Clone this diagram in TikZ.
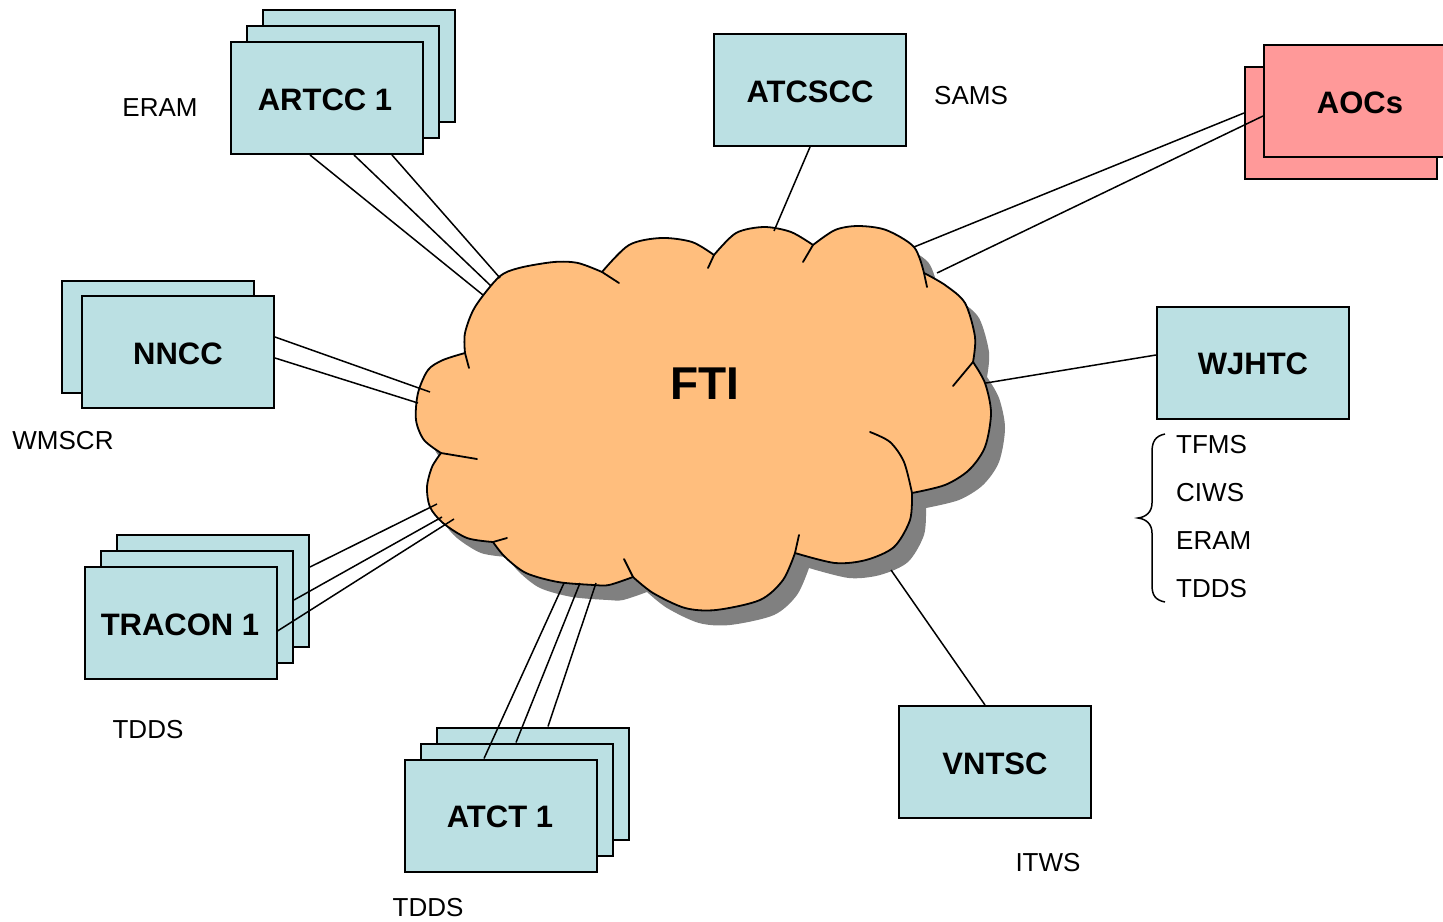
\documentclass[tikz,border=0pt]{standalone}
\usepackage{fontspec}
\setmainfont{Liberation Sans}
\definecolor{boxcol}{RGB}{187,224,227}
\definecolor{aoccol}{RGB}{255,153,153}
\definecolor{cloudcol}{RGB}{255,190,125}
\definecolor{shadowcol}{RGB}{128,128,128}
\tikzset{
  box/.style={draw=black, line width=2pt, fill=boxcol, minimum width=192pt, minimum height=112pt, inner sep=0pt, font=\fontsize{31}{36}\selectfont\bfseries},
  aocbox/.style={box, fill=aoccol},
  boxtext/.style={inner sep=0pt, font=\fontsize{31}{36}\selectfont\bfseries},
  lbl/.style={font=\fontsize{26}{30}\selectfont, inner sep=0pt},
  link/.style={line width=1.5pt},
  cloudline/.style={line width=1.8pt, line join=round, line cap=round}
}
\def\ftioutline{plot[smooth] coordinates {(465,353)(465,333)(475,307)(499,277)(519,268)(554,262)(578,263)(602,272)}
 -- plot[smooth] coordinates {(602,272)(629,245)(661,238)(692,242)(714,255)}
 -- plot[smooth] coordinates {(714,255)(736,233)(764,227)(791,232)(813,245)}
 -- plot[smooth] coordinates {(813,245)(835,230)(858,226)(886,230)(914,247)(924,273)}
 -- plot[smooth] coordinates {(924,273)(945,285)(965,303)(975,337)(973,362)}
 -- plot[smooth] coordinates {(973,362)(985,383)(991,413)(985,447)(969,470)(945,485)(912,493)}
 -- plot[smooth] coordinates {(912,493)(910,520)(894,547)(866,560)(835,563)(795,553)}
 -- plot[smooth] coordinates {(795,553)(783,580)(760,600)(716,610)(685,608)(653,593)(633,577)}
 -- plot[smooth] coordinates {(633,577)(609,585)(594,585)(558,582)(526,573)(505,557)(493,542)}
 -- plot[smooth] coordinates {(493,542)(467,538)(443,523)(430,507)(427,487)(432,467)(441,453)}
 -- plot[smooth] coordinates {(441,453)(424,440)(416,420)(418,393)(428,370)(443,360)(465,353)}}
\begin{document}
\begin{tikzpicture}[x=1pt,y=-1pt]
\useasboundingbox (0,0) rectangle (1443,921);
\clip (0,0) rectangle (1443,921);
% cloud shadow and cloud
\begin{scope}[shift={(14,15)}]
\fill[shadowcol] \ftioutline -- cycle;
\end{scope}
\filldraw[fill=cloudcol, draw=black, cloudline] \ftioutline -- cycle;
% inner strokes of the cloud
\draw[cloudline] (465,353) -- (469,368);
\draw[cloudline] (602,272) -- (619,283);
\draw[cloudline] (714,255) -- (708,268);
\draw[cloudline] (813,245) -- (803,262);
\draw[cloudline] (924,273) -- (927,287);
\draw[cloudline] (973,362) -- (953,386);
\draw[cloudline] plot[smooth] coordinates {(870,432)(890,442)(904,462)(912,493)};
\draw[cloudline] (795,553) -- (799,535);
\draw[cloudline] (633,577) -- (624,559);
\draw[cloudline] (493,542) -- (507,538);
\draw[cloudline] (441,453) -- (477,459);
\node[font=\fontsize{46}{50}\selectfont\bfseries, inner sep=0pt] (fti) at (705,384) {FTI};
% cloud end points of connectors
\coordinate (cA1) at (483,295);
\coordinate (cA2) at (491,286);
\coordinate (cA3) at (500,278);
\coordinate (cS) at (774,231);
\coordinate (cO1) at (914,247);
\coordinate (cO2) at (937,273);
\coordinate (cW) at (986,383);
\coordinate (cV) at (891,570);
\coordinate (cT1) at (564,583);
\coordinate (cT2) at (580,583);
\coordinate (cT3) at (596,583);
\coordinate (cR1) at (437,504);
\coordinate (cR2) at (442,517);
\coordinate (cR3) at (454,519);
\coordinate (cN1) at (430,392);
\coordinate (cN2) at (418,403);
% boxes
\node[box] (artcc3) at (359,66) {};
\node[box] (artcc2) at (343,82) {};
\node[box] (artcc) at (327,98) {};
\node[boxtext] (artcct) at (325,100) {ARTCC 1};
\node[box] (atcscc) at (810,90) {};
\node[boxtext] (atcscct) at (810,92) {ATCSCC};
\node[aocbox] (aocs2) at (1341,122.5) {};
\node[aocbox] (aocs) at (1360,101) {};
\node[boxtext] (aocst) at (1360,103) {AOCs};
\node[box] (nncc2) at (158,336.5) {};
\node[box] (nncc) at (178,351.5) {};
\node[boxtext] (nnccT) at (178,353.5) {NNCC};
\node[box] (wjhtc) at (1253,362.5) {};
\node[boxtext] (wjhtct) at (1253,364) {WJHTC};
\node[box] (tracon3) at (213,591) {};
\node[box] (tracon2) at (197,607) {};
\node[box] (tracon) at (180.5,623) {};
\node[boxtext] (tracont) at (180,625) {TRACON 1};
\node[box] (atct3) at (533,783.5) {};
\node[box] (atct2) at (517,799.5) {};
\node[box] (atct) at (501,815.5) {};
\node[boxtext] (atctt) at (500,817) {ATCT 1};
\node[box] (vntsc) at (995,762) {};
\node[boxtext] (vntsct) at (995,763.5) {VNTSC};
% connectors
\draw[link] ([xshift=80pt]artcc.south west) -- (cA1);
\draw[link] ([xshift=124pt]artcc.south west) -- (cA2);
\draw[link] ([xshift=162pt]artcc.south west) -- (cA3);
\draw[link] (atcscc.south) -- (cS);
\draw[link] ([yshift=9.5pt]aocs2.west) -- (cO1);
\draw[link] ([yshift=-15pt]aocs.west) -- (cO2);
\draw[link] ([yshift=7.5pt]wjhtc.west) -- (cW);
\draw[link] ([xshift=-10pt]vntsc.north) -- (cV);
\draw[link] ([xshift=80pt]atct.north west) -- (cT1);
\draw[link] ([xshift=96pt]atct2.north west) -- (cT2);
\draw[link] ([xshift=112pt]atct3.north west) -- (cT3);
\draw[link] ([yshift=24pt]tracon3.east) -- (cR1);
\draw[link] ([yshift=7pt]tracon2.east) -- (cR2);
\draw[link] ([yshift=-8pt]tracon.east) -- (cR3);
\draw[link] ([yshift=14.5pt]nncc.east) -- (cN1);
\draw[link] ([yshift=-6.5pt]nncc.east) -- (cN2);
% labels
\node[lbl] (l1) at (160,108) {ERAM};
\node[lbl] (l2) at (971,96) {SAMS};
\node[lbl] (l3) at (63,441) {WMSCR};
\node[lbl] (l4) at (148,730) {TDDS};
\node[lbl] (l5) at (428,908) {TDDS};
\node[lbl] (l6) at (1048,863) {ITWS};
\node[lbl, anchor=west] (w1) at (1176,445) {TFMS};
\node[lbl, anchor=west] (w2) at (1176,493) {CIWS};
\node[lbl, anchor=west] (w3) at (1176,541) {ERAM};
\node[lbl, anchor=west] (w4) at (1176,589) {TDDS};
% brace
\draw[line width=1.5pt] (1165,434) .. controls (1155,436) and (1152,442) .. (1152,452)
  -- (1152,503) .. controls (1152,512) and (1146,517) .. (1138,518)
  .. controls (1146,519) and (1152,524) .. (1152,533)
  -- (1152,585) .. controls (1152,595) and (1155,600) .. (1165,602);
\end{tikzpicture}
\end{document}
